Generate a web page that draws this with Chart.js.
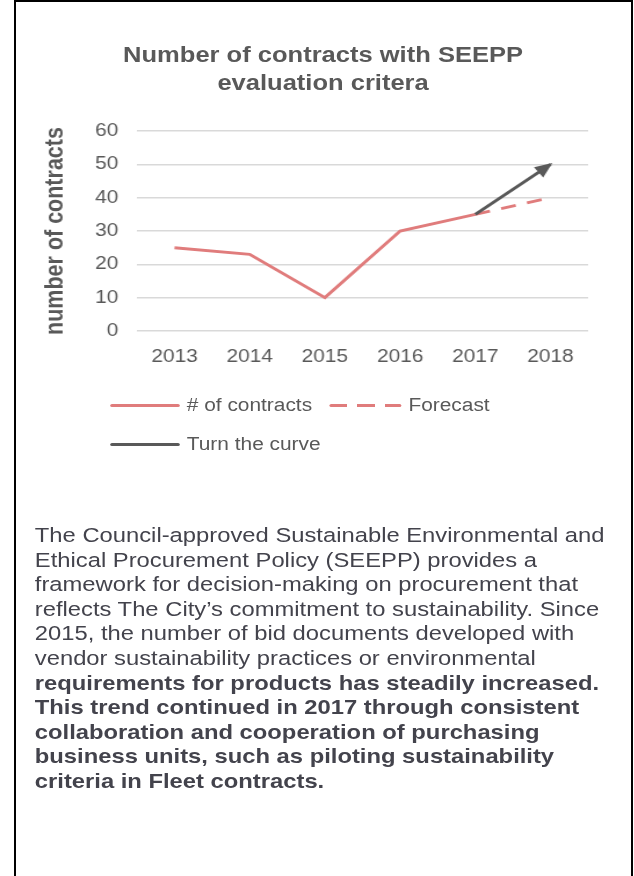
<!DOCTYPE html>
<html>
<head>
<meta charset="utf-8">
<script src="https://cdn.jsdelivr.net/npm/chart.js@4.4.0/dist/chart.umd.min.js"></script>
<style>
  html, body { margin: 0; padding: 0; background: #fff; }
  body { width: 634px; height: 876px; overflow: hidden; position: relative; font-family: "Liberation Sans", Arial, sans-serif; }
  #frame { position: absolute; left: 14px; top: 0; width: 615px; height: 900px; border: 2px solid #000; }
  /* the reference is a bit wider than it is tall, so everything is drawn narrow and stretched */
  #page { position: absolute; left: 0; top: 0; width: 547px; height: 876px; transform: scaleX(1.16); transform-origin: 0 0; }
  #title { position: absolute; left: 0; top: 41px; width: 557px; text-align: center; font-weight: bold; font-size: 22px; line-height: 28px; color: #595959; }
  #chartBox { position: absolute; left: 0; top: 100px; width: 547px; height: 280px; }
  #legend { position: absolute; left: 95px; top: 386px; width: 390px; display: flex; flex-wrap: wrap; }
  .item { display: flex; align-items: center; height: 39px; margin-right: 15px; font-size: 18px; color: #595959; }
  .swatch { width: 60px; height: 3px; border-radius: 2px; margin-right: 6px; }
  #text { position: absolute; left: 30px; top: 523px; font-size: 20.5px; line-height: 24.6px; color: #43434c; white-space: nowrap; }
</style>
</head>
<body>
<div id="frame"></div>
<div id="page">
  <div id="title">Number of contracts with SEEPP<br>evaluation critera</div>
  <div id="chartBox"><canvas id="myChart" width="547" height="280"></canvas></div>
  <div id="legend"></div>
  <div id="text">
    The Council-approved Sustainable Environmental and<br>
    Ethical Procurement Policy (SEEPP) provides a<br>
    framework for decision-making on procurement that<br>
    reflects The City’s commitment to sustainability. Since<br>
    2015, the number of bid documents developed with<br>
    vendor sustainability practices or environmental<br>
    <b>requirements for products has steadily increased.<br>
    This trend continued in 2017 through consistent<br>
    collaboration and cooperation of purchasing<br>
    business units, such as piloting sustainability<br>
    criteria in Fleet contracts.</b>
  </div>
</div>
<script>
const years = ['2013', '2014', '2015', '2016', '2017', '2018'];
const contracts = [25, 23, 10, 30, 35, null];
const forecast = [null, null, null, null, 35, 40];
const turnCurve = [null, null, null, null, 35, 50];
const yTicks = [0, 10, 20, 30, 40, 50, 60];

const pink = '#e07c7c';
const dark = '#595959';
const grey = '#595959';

// arrow head at the end of the "turn the curve" line
const arrowHead = {
  id: 'arrowHead',
  afterDatasetsDraw(chart) {
    const meta = chart.getDatasetMeta(2);
    const pts = meta.data.filter((p, i) => turnCurve[i] !== null);
    if (pts.length < 2) return;
    const a = pts[pts.length - 2], b = pts[pts.length - 1];
    const ang = Math.atan2(b.y - a.y, b.x - a.x);
    const len = 13, half = 6.5;
    const ctx = chart.ctx;
    ctx.save();
    ctx.translate(b.x, b.y);
    ctx.rotate(ang);
    ctx.beginPath();
    ctx.moveTo(2, 0);
    ctx.lineTo(-len, -half);
    ctx.lineTo(-len, half);
    ctx.closePath();
    ctx.fillStyle = dark;
    ctx.fill();
    ctx.restore();
  }
};

const data = {
  labels: years,
  datasets: [{
    label: '# of contracts',
    data: contracts,
    borderColor: pink,
    backgroundColor: pink,
    borderWidth: 3,
    pointRadius: 0,
    order: 2
  }, {
    label: 'Forecast',
    data: forecast,
    borderColor: pink,
    backgroundColor: pink,
    borderWidth: 3,
    borderDash: [13, 10],
    pointRadius: 0,
    order: 1
  }, {
    label: 'Turn the curve',
    data: turnCurve,
    borderColor: dark,
    backgroundColor: dark,
    borderWidth: 3,
    pointRadius: 0,
    order: 0
  }]
};

const config = {
  type: 'line',
  data: data,
  options: {
    responsive: false,
    animation: false,
    events: [],
    layout: { padding: { top: 31, right: 40, left: 0, bottom: 12 } },
    plugins: {
      legend: { display: false },
      title: { display: false },
      tooltip: { enabled: false }
    },
    scales: {
      x: {
        offset: true,
        afterFit: (scale) => { scale.height = 37; },
        grid: { display: false, drawTicks: false },
        border: { display: false },
        ticks: { color: grey, font: { family: 'Liberation Sans', size: 18 }, padding: 15, maxRotation: 0 }
      },
      y: {
        min: 0,
        max: 60,
        afterFit: (scale) => { scale.width = 118; },
        afterBuildTicks: (scale) => { scale.ticks = yTicks.map(v => ({ value: v })); },
        grid: { color: '#d9d9d9', lineWidth: 1.5, drawTicks: false },
        border: { display: false },
        ticks: { color: grey, font: { family: 'Liberation Sans', size: 18 }, padding: 16 },
        title: {
          display: true,
          text: 'number of contracts',
          color: grey,
          font: { family: 'Liberation Sans', size: 21.5, weight: 'bold' },
          padding: { top: 35, bottom: 0 }
        }
      }
    }
  },
  plugins: [arrowHead]
};

new Chart(document.getElementById('myChart'), config);

// legend built from the dataset definitions
const legend = document.getElementById('legend');
for (let ds of data.datasets) {
  const item = document.createElement('div');
  item.className = 'item';
  const sw = document.createElement('div');
  sw.className = 'swatch';
  if (ds.borderDash) {
    sw.style.width = '62px';
    sw.style.background = 'repeating-linear-gradient(to right, ' + ds.borderColor + ' 0 15px, transparent 15px 24px)';
  } else {
    sw.style.background = ds.borderColor;
  }
  item.appendChild(sw);
  item.appendChild(document.createTextNode(ds.label));
  legend.appendChild(item);
}
</script>
</body>
</html>
